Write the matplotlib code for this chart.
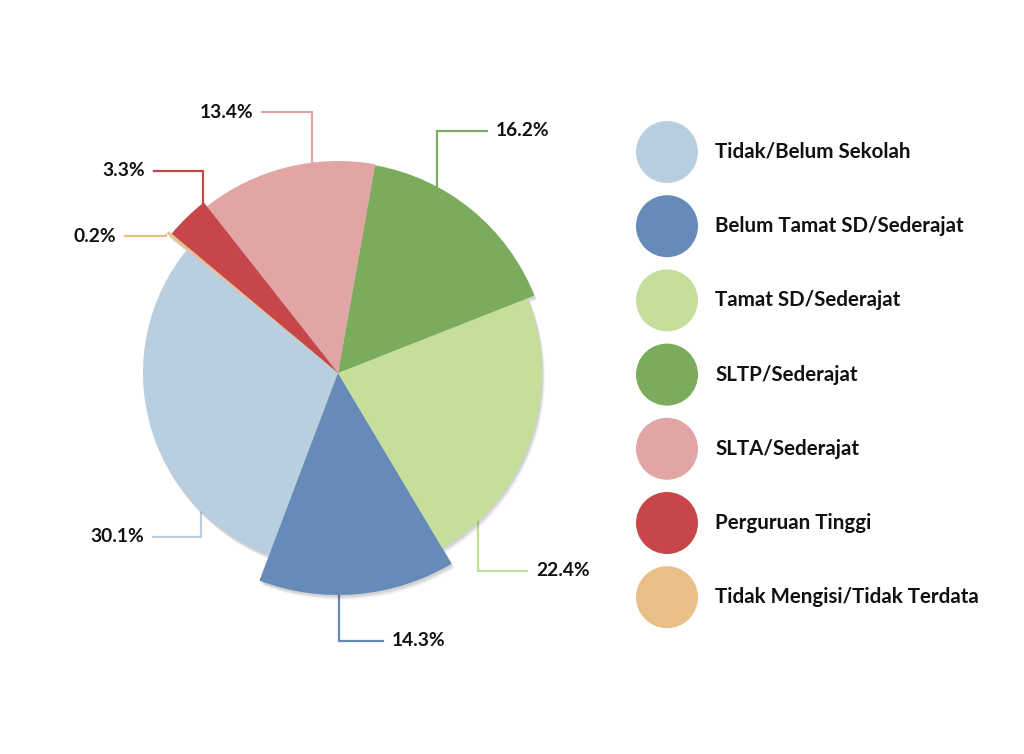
import matplotlib
matplotlib.use("Agg")
import matplotlib.pyplot as plt
from matplotlib.patches import Wedge, Circle
import numpy as np

# data
categories = ["Tidak/Belum Sekolah", "Belum Tamat SD/Sederajat", "Tamat SD/Sederajat",
              "SLTP/Sederajat", "SLTA/Sederajat", "Perguruan Tinggi",
              "Tidak Mengisi/Tidak Terdata"]
percent = [30.1, 14.3, 22.4, 16.2, 13.4, 3.3, 0.2]
colors = ["#B9CEDF", "#678BB8", "#C5DE9C", "#7BAB5C", "#E2A5A5", "#C7464A", "#E8BF87"]

# layout (pixels, y measured from top)
W, H = 1024, 754
cx, cy = 338, 373
radii = [195, 222, 204, 211, 212, 217, 221]
# where each connector leaves the slice (deg), elbow y, end x of horizontal run
lab_ang = [225.4, 270.3, 313.3, 62.0, 97.0, 128.5, 141.3]
elbow_y = [537, 641, 571, 131, 112, 171, 236]
end_x = [153, 383, 527, 487, 262, 154, 125]

plt.rcParams['font.family'] = ['Lato', 'DejaVu Sans']

fig = plt.figure(figsize=(W / 100, H / 100), dpi=100)
ax = fig.add_axes([0, 0, 1, 1])

def Y(p):
    return H - p

wedges, _ = ax.pie(percent, colors=colors, startangle=140.8, counterclock=True,
                   center=(cx, Y(cy)), radius=200, frame=True,
                   wedgeprops=dict(linewidth=0, zorder=3))
for w, r in zip(wedges, radii):
    w.set_radius(r)

# soft drop shadow
for w, r in zip(wedges, radii):
    for o, a in [(5, 0.03), (4, 0.04), (3, 0.05), (2, 0.06)]:
        ax.add_patch(Wedge((cx + o * 0.6, Y(cy) - o), r, w.theta1, w.theta2,
                           facecolor="black", alpha=a, linewidth=0, zorder=2))

# connectors + percent labels
for i, p in enumerate(percent):
    t = np.deg2rad(lab_ang[i])
    x0 = cx + radii[i] * np.cos(t)
    y0 = Y(cy) + radii[i] * np.sin(t)
    ye = Y(elbow_y[i])
    ax.plot([x0, x0, end_x[i]], [y0, ye, ye], color=colors[i], lw=1.6,
            solid_joinstyle="miter", zorder=1)
    if end_x[i] > x0:
        ax.text(end_x[i] + 9, ye, f"{p}%", ha="left", va="center",
                fontsize=13.8, fontweight="bold", color="#111111")
    else:
        ax.text(end_x[i] - 9, ye, f"{p}%", ha="right", va="center",
                fontsize=13.8, fontweight="bold", color="#111111")

# legend
for i, name in enumerate(categories):
    ly = Y(152 + i * 74.2)
    ax.add_patch(Circle((667, ly), 31, facecolor=colors[i], linewidth=0))
    ax.text(715, ly, name, ha="left", va="center", fontsize=14.8,
            fontweight="bold", color="#111111")

ax.set_xlim(0, W)
ax.set_ylim(0, H)
ax.set_aspect("equal")
ax.axis("off")

fig.savefig("out.png", dpi=100, facecolor="white")
